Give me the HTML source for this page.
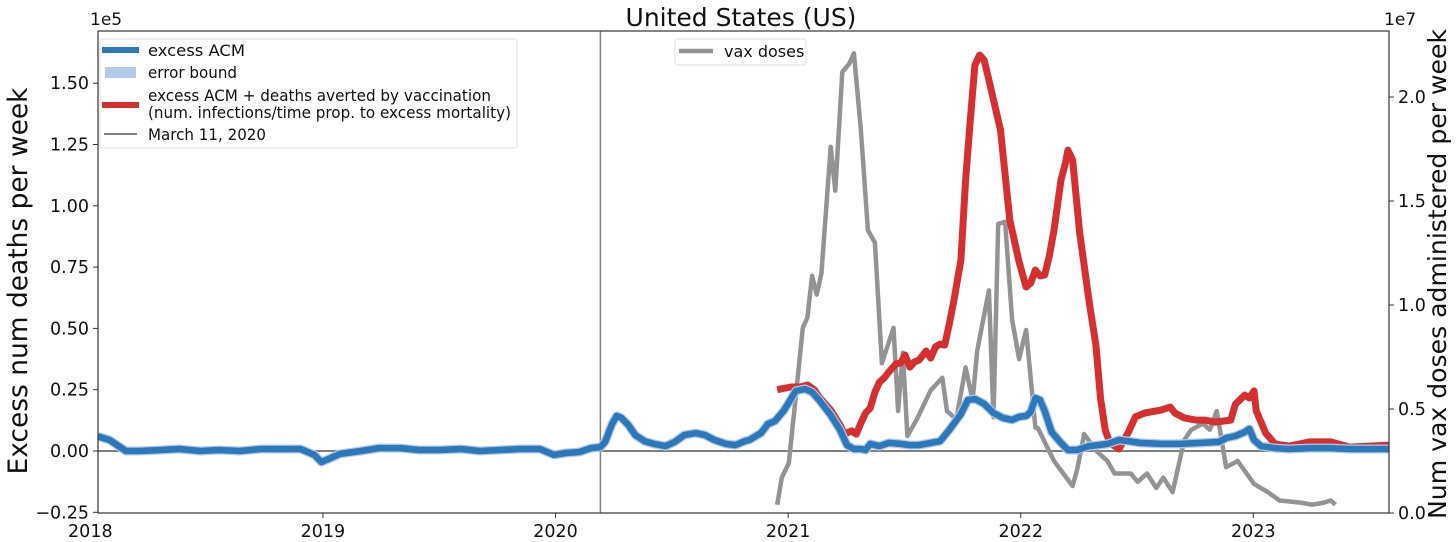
<!DOCTYPE html>
<html><head><meta charset="utf-8"><style>
html,body{margin:0;padding:0;background:#fff;}
svg{display:block;font-family:"DejaVu Sans","Liberation Sans",sans-serif;}
</style></head><body>
<svg id="chart" width="1456" height="542" viewBox="0 0 1456 542">
<g id="marks"></g>
<g id="axes"></g>
</svg>
<script>
// time offsets in years from the left edge of the plot (edge ≈ 2018.03)
const blueT=[0.00,0.05,0.12,0.18,0.27,0.35,0.44,0.52,0.61,0.70,0.78,0.87,0.93,0.96,1.00,1.04,1.13,1.21,1.30,1.38,1.47,1.56,1.64,1.73,1.81,1.90,1.96,2.01,2.07,2.12,2.16,2.18,2.21,2.23,2.25,2.28,2.31,2.35,2.39,2.44,2.48,2.52,2.57,2.61,2.65,2.70,2.74,2.78,2.80,2.85,2.88,2.91,2.95,3.00,3.04,3.07,3.10,3.15,3.19,3.22,3.25,3.28,3.30,3.32,3.36,3.40,3.45,3.49,3.53,3.58,3.62,3.66,3.71,3.74,3.77,3.81,3.85,3.89,3.93,3.96,3.99,4.01,4.03,4.05,4.07,4.10,4.14,4.17,4.21,4.26,4.30,4.34,4.39,4.43,4.48,4.57,4.65,4.74,4.82,4.85,4.89,4.93,4.95,4.97,5.00,5.06,5.12,5.21,5.30,5.38,5.47,5.55];
const blueV=[0.06,0.045,0,0,0.004,0.008,0,0.004,0,0.008,0.008,0.008,-0.016,-0.045,-0.029,-0.012,0,0.012,0.012,0.004,0.004,0.008,0,0.004,0.008,0.008,-0.016,-0.008,-0.004,0.012,0.016,0.037,0.11,0.143,0.135,0.106,0.065,0.04,0.029,0.02,0.037,0.065,0.073,0.065,0.045,0.029,0.024,0.04,0.045,0.073,0.11,0.122,0.167,0.245,0.253,0.24,0.208,0.147,0.086,0.024,0.008,0.008,0.004,0.029,0.02,0.033,0.029,0.024,0.024,0.033,0.04,0.086,0.151,0.208,0.212,0.192,0.155,0.135,0.127,0.139,0.143,0.159,0.216,0.208,0.163,0.077,0.033,0.004,0.004,0.02,0.024,0.029,0.045,0.04,0.033,0.029,0.029,0.033,0.037,0.053,0.061,0.077,0.09,0.045,0.02,0.012,0.008,0.012,0.012,0.008,0.008,0.008];
const redT=[2.92,2.98,3.02,3.05,3.08,3.10,3.15,3.19,3.21,3.24,3.26,3.28,3.30,3.32,3.34,3.36,3.38,3.40,3.43,3.45,3.47,3.49,3.51,3.53,3.56,3.58,3.60,3.62,3.64,3.66,3.68,3.71,3.73,3.75,3.77,3.79,3.81,3.83,3.88,3.92,3.96,3.99,4.01,4.03,4.05,4.07,4.09,4.11,4.14,4.16,4.17,4.19,4.22,4.26,4.29,4.31,4.33,4.35,4.39,4.43,4.46,4.50,4.57,4.61,4.63,4.67,4.72,4.76,4.80,4.87,4.89,4.93,4.95,4.97,4.98,5.02,5.06,5.12,5.21,5.30,5.38,5.47,5.55];
const redV=[0.25,0.261,0.261,0.269,0.249,0.22,0.167,0.106,0.069,0.082,0.069,0.114,0.155,0.175,0.24,0.281,0.298,0.322,0.355,0.359,0.391,0.342,0.363,0.371,0.408,0.379,0.424,0.436,0.432,0.518,0.616,0.779,1.105,1.35,1.574,1.615,1.594,1.513,1.309,0.942,0.771,0.669,0.685,0.738,0.714,0.718,0.795,0.901,1.105,1.178,1.227,1.187,0.893,0.616,0.432,0.216,0.086,0.033,0.008,0.077,0.139,0.155,0.167,0.179,0.155,0.135,0.126,0.126,0.118,0.126,0.191,0.228,0.216,0.245,0.163,0.073,0.029,0.02,0.037,0.037,0.016,0.02,0.024];
const vaxT=[2.92,2.94,2.97,3.00,3.03,3.05,3.07,3.09,3.11,3.15,3.17,3.20,3.23,3.25,3.28,3.31,3.34,3.35,3.37,3.42,3.44,3.46,3.48,3.52,3.58,3.63,3.65,3.69,3.73,3.76,3.78,3.83,3.85,3.87,3.90,3.93,3.96,3.99,4.03,4.04,4.11,4.19,4.21,4.24,4.29,4.34,4.37,4.44,4.47,4.51,4.55,4.58,4.62,4.67,4.70,4.75,4.78,4.81,4.85,4.90,4.97,5.03,5.08,5.17,5.22,5.27,5.30,5.32];
const vaxV=[0.04,0.17,0.24,0.56,0.89,0.94,1.14,1.05,1.15,1.76,1.55,2.12,2.16,2.21,1.84,1.36,1.30,1.11,0.72,0.89,0.49,0.77,0.37,0.45,0.59,0.65,0.49,0.45,0.70,0.54,0.78,1.07,0.46,1.39,1.40,0.93,0.74,0.88,0.41,0.41,0.25,0.13,0.21,0.38,0.30,0.25,0.19,0.19,0.15,0.19,0.12,0.17,0.10,0.35,0.40,0.43,0.40,0.49,0.22,0.25,0.14,0.10,0.06,0.05,0.04,0.05,0.06,0.04];
const leftTicks=[-0.25,0,0.25,0.5,0.75,1.0,1.25,1.5];
const leftTickLabels=["−0.25","0.00","0.25","0.50","0.75","1.00","1.25","1.50"];
const rightTicks=[0,0.5,1.0,1.5,2.0];
const rightTickLabels=["0.0","0.5","1.0","1.5","2.0"];
const yearTicks=[2018,2019,2020,2021,2022,2023];
const marchT=2.16;

const L=98,R=1389,T=31,B=513;
const x=t=>L+t*232.6;
const yearX=yr=>L+(yr-2018.033)*232.6;
const yl=v=>451-v*245.2;
const yr=v=>513-v*208;
const NS="http://www.w3.org/2000/svg";
const marks=document.getElementById('marks'), axes=document.getElementById('axes');
function mk(tag,attrs,parent){const e=document.createElementNS(NS,tag);for(const k in attrs)e.setAttribute(k,attrs[k]);parent.appendChild(e);return e;}
function pts(ts,vs,fy){return ts.map((t,i)=>x(t).toFixed(1)+','+fy(vs[i]).toFixed(1)).join(' ');}

const defs=mk('defs',{},marks);
const cp=mk('clipPath',{id:'clip'},defs);
mk('rect',{x:L,y:T,width:R-L,height:B-T},cp);
const g=mk('g',{'clip-path':'url(#clip)'},marks);

const zero=mk('line',{x1:L,x2:R,y1:yl(0),y2:yl(0),stroke:'#808080','stroke-width':2},g);


const mline=mk('line',{x1:x(marchT),x2:x(marchT),y1:T,y2:B,stroke:'#808080','stroke-width':1.5},g);



const vax=mk('polyline',{points:pts(vaxT,vaxV,yr),fill:'none',stroke:'#939393','stroke-width':4.5,'stroke-linejoin':'round'},g);



const red=mk('polyline',{points:pts(redT,redV,yl),fill:'none',stroke:'#d62f2f','stroke-width':7,'stroke-linejoin':'round'},g);



const band=mk('polyline',{points:pts(blueT,blueV,yl),fill:'none',stroke:'#b4c8ea','stroke-width':9,'stroke-linejoin':'round'},g);


const blue=mk('polyline',{points:pts(blueT,blueV,yl),fill:'none',stroke:'#2b78ba','stroke-width':6.5,'stroke-linejoin':'round'},g);



const frame=mk('rect',{x:L,y:T,width:R-L,height:B-T,fill:'none',stroke:'#333','stroke-width':1.2},axes);



leftTicks.forEach((v,i)=>{
  mk('line',{x1:L-5,x2:L,y1:yl(v),y2:yl(v),stroke:'#333'},axes);
  const t=mk('text',{x:L-9,y:yl(v)+6,'text-anchor':'end','font-size':17.5,fill:'#111'},axes);
  t.textContent=leftTickLabels[i];
  
  
});
rightTicks.forEach((v,i)=>{
  mk('line',{x1:R,x2:R+5,y1:yr(v),y2:yr(v),stroke:'#333'},axes);
  const t=mk('text',{x:R+9,y:yr(v)+6,'text-anchor':'start','font-size':17.5,fill:'#111'},axes);
  t.textContent=rightTickLabels[i];
  
  
});
yearTicks.forEach(yy=>{
  const xx=yearX(yy);
  if(xx>=L) mk('line',{x1:xx,x2:xx,y1:B,y2:B+5,stroke:'#333'},axes);
  const t=mk('text',{x:xx,y:B+24,'text-anchor':'middle','font-size':17.5,fill:'#111'},axes);
  t.textContent=String(yy);
  
  
});
</script>
<svg style="position:absolute;left:0;top:0" width="1456" height="542">
<text x="741" y="26" text-anchor="middle" font-size="25" fill="#111" font-family="DejaVu Sans, Liberation Sans, sans-serif">United States (US)</text>
<text x="90" y="25" font-size="17" fill="#111" font-family="DejaVu Sans, Liberation Sans, sans-serif">1e5</text>
<text x="1384" y="25" font-size="17" fill="#111" font-family="DejaVu Sans, Liberation Sans, sans-serif">1e7</text>
<text transform="translate(27,281) rotate(-90)" text-anchor="middle" font-size="27" textLength="387" lengthAdjust="spacingAndGlyphs" fill="#111" font-family="DejaVu Sans, Liberation Sans, sans-serif">Excess num deaths per week</text>
<text transform="translate(1446,274) rotate(-90)" text-anchor="middle" font-size="25" textLength="490" lengthAdjust="spacingAndGlyphs" fill="#111" font-family="DejaVu Sans, Liberation Sans, sans-serif">Num vax doses administered per week</text>
<g font-family="DejaVu Sans, Liberation Sans, sans-serif" font-size="16" fill="#111">
<rect x="100" y="39" width="417" height="109" rx="3" fill="#fff" fill-opacity="0.85" stroke="#ddd"/>
<g><line x1="102" x2="139" y1="50" y2="50" stroke="#2b78ba" stroke-width="6"/><text x="148" y="56" textLength="97" lengthAdjust="spacingAndGlyphs">excess ACM</text></g>
<g><rect x="105" y="67" width="31" height="11" fill="#b4c8ea"/><text x="148" y="78" textLength="89" lengthAdjust="spacingAndGlyphs">error bound</text></g>
<g><line x1="102" x2="139" y1="105" y2="105" stroke="#d62f2f" stroke-width="6"/><text x="148" y="101" textLength="343" lengthAdjust="spacingAndGlyphs">excess ACM + deaths averted by vaccination</text><text x="148" y="118" textLength="363" lengthAdjust="spacingAndGlyphs">(num. infections/time prop. to excess mortality)</text></g>
<g><line x1="104" x2="137" y1="134" y2="134" stroke="#808080" stroke-width="2"/><text x="148" y="140" textLength="118" lengthAdjust="spacingAndGlyphs">March 11, 2020</text></g>
</g>
<g font-family="DejaVu Sans, Liberation Sans, sans-serif" font-size="16" fill="#111">
<rect x="675" y="39" width="131" height="26" rx="3" fill="#fff" fill-opacity="0.85" stroke="#ddd"/>
<line x1="679" x2="713" y1="51" y2="51" stroke="#939393" stroke-width="4.5"/>
<text x="724" y="57">vax doses</text>
</g>
</svg>
</body></html>
